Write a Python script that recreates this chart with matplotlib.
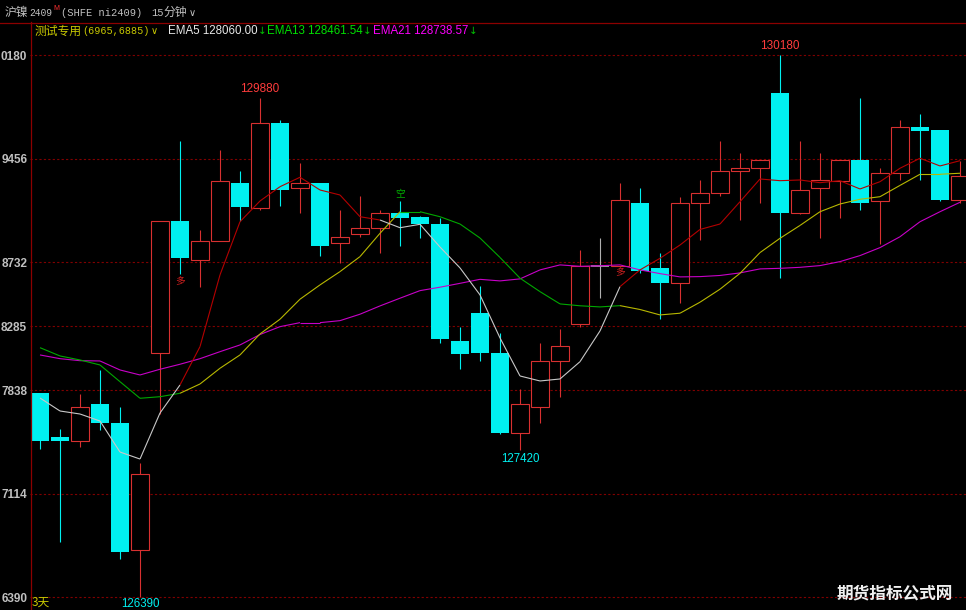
import matplotlib
matplotlib.use('Agg')
import matplotlib.pyplot as plt
from matplotlib.patches import Rectangle
from matplotlib.collections import LineCollection
from matplotlib.lines import Line2D

W, H = 966, 610
CJK = 'Noto Sans CJK SC'

# ---------------- data ----------------
opens  = [127820, 127510, 127480, 127740, 127610, 126720, 128100, 129020, 128750, 128880,
          129290, 129110, 129710, 129250, 129290, 128870, 128930, 128970, 129080, 129050,
          129000, 128180, 128380, 128100, 127540, 127720, 128040, 128300, 128710, 128710,
          129150, 128690, 128590, 129150, 129220, 129370, 129390, 129920, 129080, 129250,
          129300, 129450, 129160, 129360, 129680, 129660, 129170]
highs  = [127820, 127570, 127810, 127980, 127720, 127330, 129020, 129580, 128960, 129520,
          129370, 129880, 129730, 129430, 129290, 129100, 129200, 129100, 129160, 129060,
          129040, 128280, 128570, 128240, 127850, 128170, 128270, 128820, 128900, 129290,
          129250, 128800, 129190, 129310, 129580, 129500, 129450, 130180, 129580, 129500,
          129450, 129880, 129390, 129730, 129770, 129660, 129440]
lows   = [127430, 126780, 127440, 127560, 126660, 126390, 127670, 128650, 128560, 128880,
          129020, 129100, 129130, 129080, 128780, 128730, 128910, 128800, 128850, 128900,
          128170, 127990, 128040, 127530, 127420, 127610, 127790, 128280, 128480, 128710,
          128660, 128340, 128450, 128890, 129200, 129030, 129150, 128620, 129070, 128900,
          129040, 129100, 128860, 129310, 129310, 129160, 129150]
closes = [127480, 127480, 127720, 127610, 126710, 127250, 129020, 128760, 128880, 129300,
          129120, 129710, 129240, 129290, 128850, 128910, 128970, 129080, 129040, 129000,
          128200, 128090, 128100, 127540, 127740, 128040, 128150, 128710, 128710, 129170,
          128670, 128590, 129150, 129220, 129370, 129390, 129450, 129080, 129240, 129310,
          129450, 129150, 129360, 129680, 129650, 129170, 129340]

ema5  = [127784, 127693, 127672, 127623, 127406, 127357, 127679, 127875, 128143, 128645,
         129017, 129162, 129262, 129328, 129239, 129204, 129052, 129029, 128975, 128999,
         128840, 128694, 128505, 128204, 127938, 127903, 127917, 128038, 128253, 128563,
         128680, 128761, 128854, 128963, 129001, 129157, 129316, 129304, 129309, 129290,
         129304, 129246, 129297, 129391, 129461, 129407, 129444]
ema13 = [128136, 128078, 128050, 128015, 127898, 127782, 127793, 127817, 127882, 127992,
         128085, 128232, 128335, 128475, 128575, 128668, 128773, 128936, 129087, 129087,
         129052, 129001, 128903, 128767, 128622, 128528, 128442, 128429, 128421, 128430,
         128403, 128365, 128377, 128454, 128545, 128656, 128801, 128901, 128991, 129087,
         129141, 129174, 129192, 129271, 129349, 129349, 129356]
ema21 = [128085, 128059, 128045, 128043, 127980, 127945, 127985, 128020, 128059, 128108,
         128155, 128228, 128283, 128311, 128311, 128325, 128370, 128428, 128482, 128535,
         128559, 128586, 128614, 128603, 128617, 128680, 128715, 128705, 128709, 128715,
         128680, 128654, 128631, 128633, 128641, 128659, 128687, 128691, 128698, 128710,
         128738, 128780, 128836, 128912, 129017, 129087, 129153]

ytick_vals   = [130180, 129456, 128732, 128285, 127838, 127114, 126390]
ytick_labels = ['0180', '9456', '8732', '8285', '7838', '7114', '6390']

signal_idx  = [7, 18, 29]
signal_text = ['多', '空', '多']

high_marks = [(11, 129880), (37, 130180)]
low_marks  = [(24, 127420), (5, 126390)]

# ---------------- colours ----------------
CYAN = '#00f0f0'
RED = '#d83030'
DOJI = '#b0b0b0'
GRID = '#800000'

fig = plt.figure(figsize=(W / 100, H / 100), dpi=100, facecolor='black')
ax = fig.add_axes([30 / W, 0, 936 / W, 588 / H])
ax.set_facecolor('black')
for s in ax.spines.values():
    s.set_visible(False)
ax.set_xlim(-0.5, 46.3)
ax.set_ylim(126301, 130414)
ax.set_xticks([])
ax.set_yticks(ytick_vals, labels=ytick_labels)
ax.tick_params(axis='y', length=0, pad=2, labelcolor='#c0c0c0', labelsize=8.5)
for lab in ax.get_yticklabels():
    lab.set_fontweight('bold')
    lab.set_family('Liberation Sans')

for v in ytick_vals:
    ax.axhline(v, color=GRID, ls=(0, (2, 2)), lw=0.8, zorder=1)

bw = 0.87
for i, (o, h, l, c) in enumerate(zip(opens, highs, lows, closes)):
    if c < o:
        ax.vlines(i, l, h, color=CYAN, lw=0.8, zorder=2)
        ax.add_patch(Rectangle((i - bw / 2, c), bw, o - c, facecolor=CYAN,
                               edgecolor='none', zorder=2.1))
    elif c > o:
        if h > c:
            ax.vlines(i, c, h, color=RED, lw=0.8, zorder=2)
        if l < o:
            ax.vlines(i, l, o, color=RED, lw=0.8, zorder=2)
        ax.add_patch(Rectangle((i - bw / 2, o), bw, c - o, facecolor='black',
                               edgecolor=RED, lw=0.8, zorder=2.1))
    else:
        ax.vlines(i, l, h, color=DOJI, lw=0.8, zorder=2)
        ax.hlines(o, i - bw / 2, i + bw / 2, color=DOJI, lw=1.2, zorder=2.1)

xs = list(range(len(ema5)))
bull = [a > b for a, b in zip(ema5, ema13)]

def segs(vals):
    return [[(xs[i - 1], vals[i - 1]), (xs[i], vals[i])] for i in range(1, len(vals))]

c21 = ['#c800c8'] * (len(xs) - 1)
c13 = ['#b8b800' if bull[i - 1] else '#00a800' for i in range(1, len(xs))]
c5 = ['#b40000' if (bull[i - 1] and bull[i]) else '#c8c8c8' for i in range(1, len(xs))]
ax.add_collection(LineCollection(segs(ema21), colors=c21, lw=0.8, zorder=3))
ax.add_collection(LineCollection(segs(ema13), colors=c13, lw=0.8, zorder=3.1))
ax.add_collection(LineCollection(segs(ema5), colors=c5, lw=0.8, zorder=3.2))

for i, t in zip(signal_idx, signal_text):
    if t == '多':
        ax.annotate(t, xy=(i, lows[i]), xytext=(0, -7), textcoords='offset pixels',
                    ha='center', va='center', color='#d02020', fontsize=7,
                    family=CJK, zorder=4)
    else:
        ax.annotate(t, xy=(i, highs[i]), xytext=(0, 8), textcoords='offset pixels',
                    ha='center', va='center', color='#00b000', fontsize=7,
                    family=CJK, zorder=4)

for i, v in high_marks:
    ax.annotate(str(v), xy=(i, v), xytext=(0, 3), textcoords='offset pixels',
                ha='center', va='bottom', color='#ff3c3c', fontsize=8.5,
                family='Liberation Sans', annotation_clip=False)
for i, v in low_marks:
    off = -1 if v == min(lows) else -3
    ax.annotate(str(v), xy=(i, v), xytext=(0, off), textcoords='offset pixels',
                ha='center', va='top', color=CYAN, fontsize=8.3,
                family='Liberation Sans', annotation_clip=False)

# frame lines
fig.add_artist(Line2D([30.5 / W, 30.5 / W], [0, 1 - 22 / H], color='#8c0000', lw=0.9))
fig.add_artist(Line2D([0, 1], [1 - 22.5 / H, 1 - 22.5 / H], color='#8c0000', lw=0.9))

def ftext(x, y, s, **kw):
    fig.text(x / W, 1 - y / H, s, ha='left', va='center', **kw)

GRAY = '#c0c0c0'
YEL = '#c8c800'
ftext(5, 12.5, '沪镍', family=CJK, size=8.5, color=GRAY)
ftext(29, 12.5, '2409', family='Liberation Mono', size=6.9, color=GRAY)
ftext(53.5, 8.5, 'M', family='Liberation Sans', size=5, color='#ff3030')
ftext(61, 12.5, '(SHFE ni2409)', family='Liberation Mono', size=7.5, color=GRAY)
ftext(151, 12.5, '15', family='Liberation Mono', size=7.5, color=GRAY)
ftext(163, 12.5, '分钟', family=CJK, size=8.5, color=GRAY)
ftext(189, 12.5, '∨', family='DejaVu Sans', size=7, color=GRAY)

ftext(35, 31, '测试专用', family=CJK, size=8.5, color=YEL)
ftext(82, 31, '(6965,6885)', family='Liberation Mono', size=7.3, color=YEL)
ftext(151, 31, '∨', family='DejaVu Sans', size=7, color=YEL)
ftext(168, 31, 'EMA5 128060.00', family='Liberation Sans', size=8.3, color='#e8e8e8')
ftext(258, 31, '↓', family='DejaVu Sans', size=7.5, color='#00c000')
ftext(267, 31, 'EMA13 128461.54', family='Liberation Sans', size=8.3, color='#00e000')
ftext(363, 31, '↓', family='DejaVu Sans', size=7.5, color='#00c000')
ftext(373, 31, 'EMA21 128738.57', family='Liberation Sans', size=8.3, color='#ff00ff')
ftext(469, 31, '↓', family='DejaVu Sans', size=7.5, color='#00c000')

ftext(32, 602, '3天', family=CJK, size=8.5, color=YEL)
fig.text(895 / W, 1 - 593 / H, '期货指标公式网', ha='center', va='center',
         family=CJK, size=12, fontweight='bold', color='#f0f0f0')

fig.savefig('out.png', dpi=100, facecolor='black')
